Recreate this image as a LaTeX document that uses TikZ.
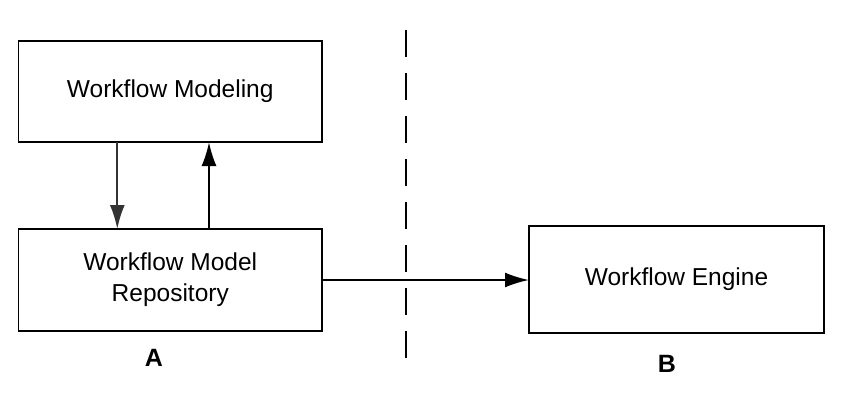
\documentclass[tikz,border=0pt]{standalone}
\usepackage{fontspec}
\setmainfont{Liberation Sans}
\usetikzlibrary{arrows.meta}
\begin{document}
\begin{tikzpicture}[x=1pt,y=-1pt,
  blockbox/.style={draw=black,line width=1.8pt,inner sep=0pt,outer sep=0pt,
    font=\fontsize{24.5}{31}\selectfont,align=center},
  conn/.style={line width=2pt,-{Latex[length=24pt,width=15pt]}},
  lbl/.style={font=\fontsize{25}{30}\selectfont\bfseries}]
\useasboundingbox (0,0) rectangle (841,394);
\node[blockbox,minimum width=303.5pt,minimum height=101.3pt] (mod) at (170.25,91.35) {Workflow Modeling};
\node[blockbox,minimum width=303.5pt,minimum height=101.7pt] (rep) at (170.25,279.85) {Workflow Model\\Repository};
\node[blockbox,minimum width=295pt,minimum height=107pt] (eng) at (676.5,279.2) {Workflow Engine};
\coordinate (dtop) at (406,30);
\coordinate (dbot) at (406,358);
\draw[line width=1.8pt,dash pattern=on 27pt off 16pt] (dtop) -- (dbot);
\draw[conn,draw=black!80,fill=black] (mod.south -| 117.3,0) -- (rep.north -| 117.3,0);
\draw[conn] (rep.north -| 209,0) -- (mod.south -| 209,0);
\draw[conn] (rep.east |- 0,280) -- (eng.west |- 0,280);
\node[lbl] (la) at (154,358) {A};
\node[lbl] (lb) at (667,364) {B};
\end{tikzpicture}
\end{document}
